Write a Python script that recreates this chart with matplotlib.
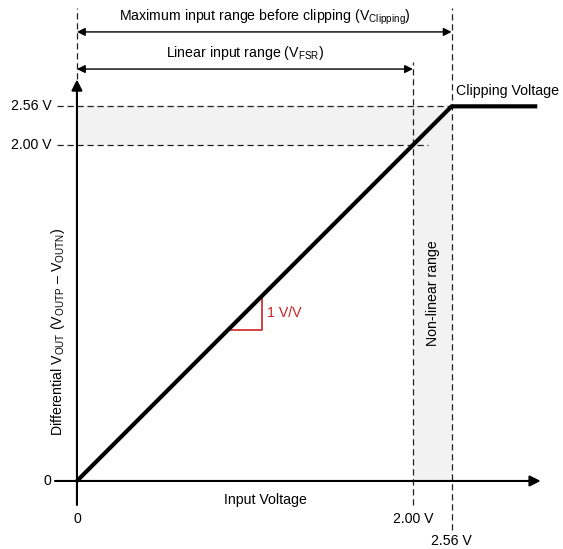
import matplotlib
matplotlib.use('Agg')
import matplotlib.pyplot as plt

plt.rcParams['font.family'] = ['Liberation Sans', 'DejaVu Sans']
plt.rcParams['mathtext.fontset'] = 'custom'
plt.rcParams['mathtext.rm'] = 'Liberation Sans'
plt.rcParams['mathtext.it'] = 'Liberation Sans'

# Schematic values (diagram is not to scale: 2.56 V sits close to 2.00 V)
linear_max = 2.00          # end of linear input range
clip_pos = 2.23            # drawn position of the 2.56 V clipping point
out_end = 2.74             # end of the flat clipped section
transfer_x = [0, clip_pos, out_end]
transfer_y = [0, clip_pos, clip_pos]

y_tick_vals = [0, linear_max, clip_pos]
y_tick_labels = ['0', '2.00 V', '2.56 V']
x_tick_vals = [0, linear_max, clip_pos]
x_tick_labels = ['0', '2.00 V', '2.56 V']

slope_x = [0.9, 1.1, 1.1]
slope_y = [0.9, 0.9, 1.1]

GRAY = '#f2f2f2'
RED = '#cc2222'
FS = 10.2
DASH = (0, (5, 3))

fig = plt.figure(figsize=(5.63, 5.49), dpi=100)
ax = fig.add_axes([0, 0, 1, 1])
ax.set_xlim(-0.458, 2.893)
ax.set_ylim(-0.405, 2.863)
ax.axis('off')

# shaded regions
ax.fill_between([0, clip_pos], linear_max, clip_pos, color=GRAY, lw=0, zorder=0)
ax.fill_between([linear_max, clip_pos], 0, linear_max, color=GRAY, lw=0, zorder=0)

# axes with arrow heads
ax.annotate('', xy=(0, 2.39), xytext=(0, -0.143),
            arrowprops=dict(arrowstyle='-|>', lw=1.5, color='k', mutation_scale=16,
                            shrinkA=0, shrinkB=0))
ax.annotate('', xy=(2.76, 0), xytext=(-0.131, 0),
            arrowprops=dict(arrowstyle='-|>', lw=1.5, color='k', mutation_scale=16,
                            shrinkA=0, shrinkB=0))

# dashed guide lines
ax.plot([-0.119, clip_pos], [clip_pos, clip_pos], color='#222222', lw=0.9, ls=DASH)
ax.plot([-0.119, 2.089], [linear_max, linear_max], color='#222222', lw=0.9, ls=DASH)
ax.plot([0, 0], [2.39, 2.815], color='#222222', lw=0.9, ls=DASH)
ax.plot([linear_max, linear_max], [-0.143, 2.494], color='#222222', lw=0.9, ls=DASH)
ax.plot([clip_pos, clip_pos], [-0.292, 2.815], color='#222222', lw=0.9, ls=DASH)

# transfer curve
ax.plot(transfer_x, transfer_y, color='k', lw=3, solid_capstyle='butt', zorder=5)

# slope triangle
ax.plot(slope_x, slope_y, color=RED, lw=1.2)
ax.text(1.13, 1.0, '1 V/V', color=RED, fontsize=FS, va='center', ha='left')

# range arrows
for yy, x1 in [(2.673, clip_pos), (2.452, linear_max)]:
    ax.annotate('', xy=(x1, yy), xytext=(0, yy),
                arrowprops=dict(arrowstyle='<|-|>', lw=1.0, color='k', mutation_scale=12,
                                shrinkA=0, shrinkB=0))
ax.text(1.12, 2.762, r'Maximum input range before clipping (V$_{\mathrm{Clipping}}$)',
        fontsize=FS, ha='center', va='center')
ax.text(1.0, 2.548, r'Linear input range (V$_{\mathrm{FSR}}$)',
        fontsize=FS, ha='center', va='center')

# tick labels
for v, lab in zip(y_tick_vals, y_tick_labels):
    ax.text(-0.15, v, lab, fontsize=FS, ha='right', va='center')
ax.text(x_tick_vals[0], -0.226, x_tick_labels[0], fontsize=FS, ha='center', va='center')
ax.text(x_tick_vals[1], -0.226, x_tick_labels[1], fontsize=FS, ha='center', va='center')
ax.text(x_tick_vals[2], -0.357, x_tick_labels[2], fontsize=FS, ha='center', va='center')

# labels
ax.text(1.12, -0.113, 'Input Voltage', fontsize=FS, ha='center', va='center')
ax.text(-0.113, 0.887,
        r'Differential V$_{\mathrm{OUT}}$ (V$_{\mathrm{OUTP}}$ – V$_{\mathrm{OUTN}}$)',
        fontsize=FS, ha='center', va='center', rotation=90)
ax.text(2.119, 1.119, 'Non-linear range', fontsize=FS, ha='center', va='center', rotation=90)
ax.text(2.256, 2.321, 'Clipping Voltage', fontsize=FS, ha='left', va='center')

fig.savefig('out.png', dpi=100)
